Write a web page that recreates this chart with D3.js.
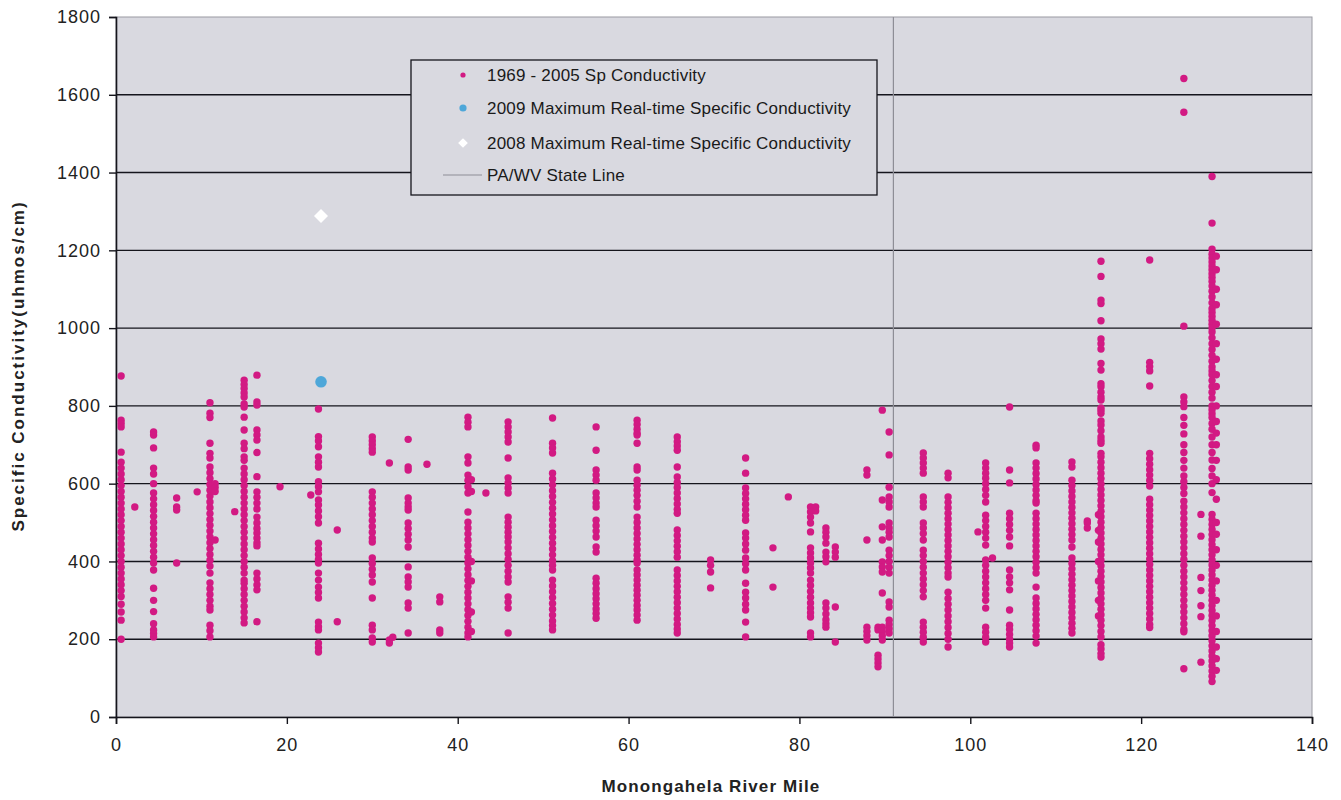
<!DOCTYPE html>
<html>
<head>
<meta charset="utf-8">
<script src="https://cdnjs.cloudflare.com/ajax/libs/d3/7.8.5/d3.min.js"></script>
<style>
  body { margin: 0; background: #fff; }
  text { font-family: "Liberation Sans", Arial, sans-serif; }
</style>
</head>
<body>
<div id="chart"></div>
<script>

// river mile of each sampling column
var riverMiles = [0.6, 2.2, 4.4, 7.1, 9.5, 11.0, 11.6, 13.9, 15.0, 16.5, 19.2, 22.8, 23.7, 25.9, 30.0, 32.0, 32.4,
  34.2, 36.4, 37.9, 41.2, 41.6, 43.3, 45.9, 51.1, 56.2, 61.0, 65.7, 69.6, 73.7, 76.9, 78.7, 81.3, 81.9, 83.1, 84.2,
  87.9, 89.2, 89.7, 90.5, 94.5, 97.4, 100.9, 101.8, 102.6, 104.6, 107.7, 111.9, 113.7, 115.0, 115.3, 121.0, 125.0,
  127.0, 128.3, 128.8];

// 1969 - 2005 specific conductivity readings at each river mile (umhos/cm)
var conductivity = [
  [877, 763, 755, 746, 681, 655, 640, 625, 610, 595, 580, 565, 550, 535, 520, 505, 490, 475, 460, 445, 430, 415, 400, 385, 370, 355, 340, 325, 310, 290, 270, 249, 200],
  [540],
  [733, 725, 692, 640, 625, 600, 576, 561, 546, 531, 516, 501, 486, 471, 456, 441, 426, 411, 396, 378, 331, 300, 271, 240, 224, 215, 206],
  [563, 540, 532, 396],
  [579],
  [808, 781, 770, 704, 678, 666, 643, 628, 613, 598, 583, 568, 553, 538, 523, 508, 493, 478, 463, 448, 433, 418, 403, 388, 370, 345, 330, 315, 300, 285, 275, 236, 222, 206],
  [600, 590, 580, 455],
  [528],
  [866, 855, 845, 833, 823, 805, 797, 771, 738, 704, 690, 669, 660, 640, 625, 610, 595, 580, 565, 550, 535, 520, 505, 490, 475, 460, 445, 430, 415, 400, 385, 370, 352, 344, 330, 315, 300, 285, 270, 255, 242],
  [879, 810, 802, 738, 725, 712, 680, 618, 579, 565, 550, 535, 514, 499, 485, 473, 460, 448, 440, 370, 355, 340, 327, 245],
  [592],
  [571],
  [792, 721, 710, 695, 669, 655, 643, 605, 592, 579, 558, 545, 530, 515, 499, 447, 432, 418, 405, 396, 370, 352, 334, 320, 306, 244, 232, 224, 190, 178, 167],
  [481, 245],
  [720, 710, 700, 690, 681, 579, 565, 550, 535, 520, 505, 490, 475, 460, 450, 409, 395, 380, 365, 347, 306, 236, 224, 203, 193],
  [653, 198, 190],
  [205],
  [714, 643, 635, 563, 550, 540, 532, 499, 485, 470, 455, 437, 386, 360, 347, 334, 293, 280, 216],
  [650],
  [309, 296, 224, 216],
  [771, 758, 746, 669, 653, 622, 608, 592, 576, 527, 501, 486, 471, 456, 441, 426, 411, 396, 381, 366, 351, 336, 321, 306, 291, 276, 261, 246, 231, 216, 206],
  [610, 580, 400, 350, 270, 220],
  [576],
  [759, 746, 733, 720, 707, 666, 615, 602, 589, 576, 514, 501, 488, 475, 463, 450, 435, 420, 405, 390, 375, 360, 347, 309, 295, 280, 216],
  [769, 704, 692, 679, 627, 612, 597, 582, 567, 552, 537, 522, 507, 492, 477, 462, 447, 432, 417, 402, 390, 378, 352, 337, 322, 307, 292, 277, 262, 247, 235, 224],
  [746, 686, 635, 622, 609, 576, 563, 550, 540, 506, 492, 478, 463, 437, 424, 357, 344, 330, 317, 304, 291, 278, 266, 254],
  [763, 752, 740, 730, 725, 704, 643, 635, 609, 596, 583, 570, 555, 540, 514, 500, 486, 472, 458, 444, 430, 416, 403, 396, 378, 365, 352, 339, 326, 313, 300, 287, 275, 262, 249],
  [720, 708, 697, 686, 643, 617, 603, 590, 576, 562, 548, 534, 524, 481, 467, 453, 439, 425, 411, 378, 364, 350, 336, 322, 308, 294, 280, 266, 252, 238, 226, 216],
  [404, 390, 373, 332],
  [666, 627, 589, 575, 561, 547, 533, 519, 506, 473, 460, 445, 429, 409, 394, 378, 344, 321, 306, 290, 275, 244, 206],
  [435, 334],
  [566],
  [540, 527, 514, 499, 476, 435, 422, 409, 396, 383, 370, 352, 338, 323, 308, 293, 280, 268, 257, 216, 206],
  [540, 530],
  [486, 475, 463, 447, 424, 412, 399, 293, 280, 265, 250, 240, 231],
  [437, 424, 411, 283, 193],
  [635, 622, 455, 231, 220, 209, 198],
  [159, 149, 139, 129, 231, 224],
  [789, 558, 489, 455, 399, 386, 373, 319, 231, 220, 209, 198],
  [733, 674, 591, 566, 553, 540, 499, 486, 475, 463, 429, 415, 400, 385, 370, 296, 283, 249, 238, 227, 216],
  [679, 666, 653, 640, 627, 566, 553, 540, 499, 486, 472, 455, 429, 415, 400, 385, 370, 355, 340, 325, 309, 244, 231, 218, 205, 193],
  [627, 615, 566, 552, 538, 524, 510, 496, 482, 468, 454, 440, 426, 412, 398, 384, 370, 360, 321, 305, 290, 275, 260, 245, 230, 215, 200, 180],
  [476],
  [653, 640, 627, 614, 600, 585, 570, 553, 519, 505, 490, 475, 460, 442, 404, 390, 375, 360, 345, 330, 315, 300, 280, 231, 218, 205, 193],
  [409],
  [797, 635, 602, 524, 510, 495, 480, 463, 440, 378, 360, 345, 327, 275, 236, 225, 212, 200, 190, 180],
  [699, 692, 653, 640, 626, 612, 598, 584, 570, 556, 550, 524, 510, 496, 482, 468, 454, 440, 426, 412, 398, 384, 370, 334, 306, 292, 278, 264, 250, 236, 222, 208, 190],
  [656, 643, 609, 595, 581, 567, 553, 539, 525, 511, 497, 483, 469, 455, 437, 409, 395, 381, 367, 353, 339, 325, 311, 297, 283, 269, 255, 241, 228, 216],
  [504, 499, 486],
  [520, 480, 450, 400, 350, 300, 260],
  [1172, 1133, 1072, 1063, 1019, 972, 960, 946, 909, 892, 857, 849, 835, 823, 815, 795, 789, 781, 761, 751, 736, 720, 711, 704, 678, 669, 655, 641, 627, 613, 599, 585, 571, 557, 543, 529, 515, 501, 487, 473, 459, 445, 431, 417, 403, 389, 375, 361, 347, 333, 319, 305, 291, 277, 263, 249, 235, 220, 206, 186, 175, 163, 154],
  [1175, 912, 901, 890, 851, 678, 664, 650, 636, 622, 608, 594, 560, 546, 532, 518, 504, 490, 476, 462, 448, 434, 420, 406, 392, 378, 364, 350, 336, 322, 308, 294, 280, 266, 252, 238, 230],
  [1642, 1555, 1005, 823, 810, 798, 770, 750, 728, 700, 680, 660, 640, 620, 605, 590, 575, 555, 540, 525, 510, 495, 480, 465, 450, 435, 420, 405, 390, 375, 360, 345, 330, 315, 300, 285, 270, 255, 240, 225, 219, 124],
  [521, 465, 359, 325, 286, 258, 141],
  [1390, 1270, 1203, 1190, 1180, 1170, 1160, 1150, 1140, 1130, 1120, 1108, 1095, 1080, 1065, 1050, 1040, 1030, 1020, 1010, 1000, 990, 975, 960, 945, 930, 915, 900, 890, 880, 865, 850, 835, 820, 800, 790, 780, 770, 755, 740, 720, 700, 680, 661, 639, 620, 600, 577, 521, 508, 495, 482, 469, 456, 443, 430, 417, 404, 391, 378, 365, 352, 339, 326, 313, 300, 287, 274, 261, 248, 235, 222, 209, 196, 183, 170, 157, 144, 131, 118, 105, 91],
  [1185, 1150, 1100, 1060, 1010, 960, 920, 880, 850, 800, 760, 730, 700, 660, 610, 560, 500, 470, 430, 390, 350, 300, 260, 220, 180, 150, 120]
];

// real-time maxima
var max2009 = [{ mile: 24.0, value: 862 }];
var max2008 = [{ mile: 24.0, value: 1288 }];
var stateLineMile = 91;

var xTicks = [0, 20, 40, 60, 80, 100, 120, 140];
var yTicks = [0, 200, 400, 600, 800, 1000, 1200, 1400, 1600, 1800];

var legendLabels = ["1969 - 2005 Sp Conductivity", "2009 Maximum Real-time Specific Conductivity",
  "2008 Maximum Real-time Specific Conductivity", "PA/WV State Line"];

var margin = { top: 17, right: 29, bottom: 83, left: 116 },
  width = 1341 - margin.left - margin.right,
  height = 800 - margin.top - margin.bottom;

var svg = d3.select("#chart")
  .append("svg")
  .attr("width", width + margin.left + margin.right)
  .attr("height", height + margin.top + margin.bottom)
  .append("g")
  .attr("transform", "translate(" + margin.left + "," + margin.top + ")");

var x = d3.scaleLinear().domain([0, 140]).range([0, width]);
var y = d3.scaleLinear().domain([0, 1800]).range([height, 0]);

// plot background
svg.append("rect")
  .attr("width", width)
  .attr("height", height)
  .attr("fill", "#d9d9e0")
  .attr("stroke", "#9a9aa2")
  .attr("stroke-width", 1);

// horizontal gridlines
svg.append("g")
  .selectAll("line")
  .data(yTicks.filter(function (d) { return d > 0 && d < 1800; }))
  .enter()
  .append("line")
  .attr("x1", 0)
  .attr("x2", width)
  .attr("y1", function (d) { return y(d); })
  .attr("y2", function (d) { return y(d); })
  .attr("stroke", "#15151c")
  .attr("stroke-width", 1.4);

// axes
var yAxis = svg.append("g")
  .call(d3.axisLeft(y).tickValues(yTicks).tickFormat(d3.format("d")).tickSize(7).tickPadding(8));
var xAxis = svg.append("g")
  .attr("transform", "translate(0," + height + ")")
  .call(d3.axisBottom(x).tickValues(xTicks).tickFormat(d3.format("d")).tickSize(7).tickPadding(14));

[yAxis, xAxis].forEach(function (a) {
  a.select(".domain").attr("stroke", "#15151c").attr("stroke-width", 1.6);
  a.selectAll(".tick line").attr("stroke", "#15151c").attr("stroke-width", 1.4);
  a.selectAll(".tick text")
    .attr("fill", "#222")
    .style("font-size", "18px")
    .style("letter-spacing", "1px")
    .style("font-family", "'Liberation Sans', Arial, sans-serif");
});

// state line
svg.append("line")
  .attr("x1", x(stateLineMile))
  .attr("x2", x(stateLineMile))
  .attr("y1", 0)
  .attr("y2", height)
  .attr("stroke", "#8e8e96")
  .attr("stroke-width", 1.2);

// flatten the readings into points
var points = [];
riverMiles.forEach(function (m, i) {
  conductivity[i].forEach(function (v) {
    points.push({ mile: m, value: v });
  });
});

svg.append("g")
  .selectAll("circle")
  .data(points)
  .enter()
  .append("circle")
  .attr("cx", function (d) { return x(d.mile); })
  .attr("cy", function (d) { return y(d.value); })
  .attr("r", 3.7)
  .attr("fill", "#d21a83");

svg.append("g")
  .selectAll("circle")
  .data(max2009)
  .enter()
  .append("circle")
  .attr("cx", function (d) { return x(d.mile); })
  .attr("cy", function (d) { return y(d.value); })
  .attr("r", 5.8)
  .attr("fill", "#4ea7d9");

svg.append("g")
  .selectAll("path")
  .data(max2008)
  .enter()
  .append("path")
  .attr("transform", function (d) { return "translate(" + x(d.mile) + "," + y(d.value) + ")"; })
  .attr("d", d3.symbol().type(d3.symbolDiamond2).size(125))
  .attr("fill", "#ffffff");

// legend
var legend = svg.append("g")
  .attr("transform", "translate(" + (411 - margin.left) + "," + (60 - margin.top) + ")");

legend.append("rect")
  .attr("width", 466)
  .attr("height", 135)
  .attr("fill", "#d9d9e0")
  .attr("stroke", "#15151c")
  .attr("stroke-width", 1.3);

var rowY = [15, 48, 83, 115];

legend.append("circle").attr("cx", 52).attr("cy", rowY[0]).attr("r", 2.6).attr("fill", "#d21a83");
legend.append("circle").attr("cx", 52).attr("cy", rowY[1]).attr("r", 3.6).attr("fill", "#4ea7d9");
legend.append("path")
  .attr("transform", "translate(52," + rowY[2] + ")")
  .attr("d", d3.symbol().type(d3.symbolDiamond2).size(60))
  .attr("fill", "#ffffff");
legend.append("line")
  .attr("x1", 32).attr("x2", 71)
  .attr("y1", rowY[3]).attr("y2", rowY[3])
  .attr("stroke", "#8e8e96").attr("stroke-width", 1.2);

legend.selectAll("text.lab")
  .data(legendLabels)
  .enter()
  .append("text")
  .attr("class", "lab")
  .attr("x", 76)
  .attr("y", function (d, i) { return rowY[i] + 6; })
  .attr("fill", "#1a1a1a")
  .style("font-size", "17px")
  .style("letter-spacing", "0.2px")
  .text(function (d) { return d; });

// axis titles
svg.append("text")
  .attr("x", 595)
  .attr("y", height + 75)
  .attr("text-anchor", "middle")
  .attr("fill", "#222")
  .style("font-size", "17px")
  .style("font-weight", "bold")
  .style("letter-spacing", "1.1px")
  .text("Monongahela River Mile");

svg.append("text")
  .attr("transform", "translate(" + (-92) + "," + (366 - margin.top) + ") rotate(-90)")
  .attr("text-anchor", "middle")
  .attr("fill", "#222")
  .style("font-size", "17px")
  .style("font-weight", "bold")
  .style("letter-spacing", "2px")
  .text("Specific Conductivity(uhmos/cm)");

</script>
</body>
</html>
